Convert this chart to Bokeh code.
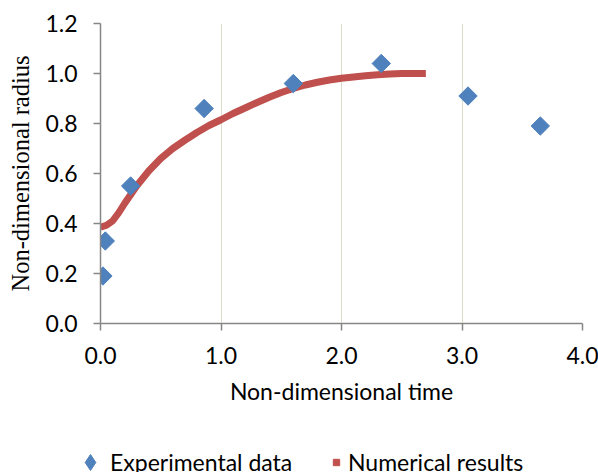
import math
from bokeh.plotting import figure
from bokeh.layouts import column
from bokeh.models import Range1d, FixedTicker, NumeralTickFormatter, Legend, LegendItem
from bokeh.embed import file_html
from bokeh.resources import INLINE

# Measured radius vs time
exp_time = [0.02, 0.04, 0.25, 0.86, 1.60, 2.33, 3.05, 3.65]
exp_radius = [0.19, 0.33, 0.55, 0.86, 0.96, 1.04, 0.91, 0.79]

# Simulated radius vs time
num_time = [0.0, 0.05, 0.1, 0.15, 0.2, 0.3, 0.4, 0.5, 0.6, 0.7, 0.8, 0.9, 1.0,
            1.1, 1.2, 1.3, 1.4, 1.5, 1.6, 1.7, 1.8, 1.9, 2.0, 2.1, 2.2, 2.3,
            2.4, 2.5, 2.6, 2.7]
num_radius = [0.385, 0.393, 0.41, 0.442, 0.48, 0.55, 0.61, 0.66, 0.70, 0.733,
              0.764, 0.792, 0.815, 0.84, 0.862, 0.884, 0.905, 0.924, 0.94, 0.954,
              0.965, 0.974, 0.981, 0.986, 0.991, 0.995, 0.998, 1.0, 1.0, 1.0]

x_ticks = [0, 1, 2, 3, 4]
y_ticks = [0.0, 0.2, 0.4, 0.6, 0.8, 1.0, 1.2]

BLUE = "#4F81BD"
RED = "#C0504D"
AXIS = "#868686"
SANS = "Lato"
FS = "23px"

p = figure(width=598, height=410, output_backend="svg", toolbar_location=None,
           x_range=Range1d(0, 4), y_range=Range1d(0, 1.2),
           min_border_left=100, min_border_right=16, min_border_top=23,
           min_border_bottom=87)
p.outline_line_color = None
p.background_fill_color = "white"
p.border_fill_color = "white"

# grid: vertical lines only
p.xgrid.ticker = FixedTicker(ticks=x_ticks)
p.xgrid.grid_line_color = "#DEDCCB"
p.xgrid.grid_line_width = 1
p.ygrid.grid_line_color = None

for ax in (p.xaxis[0], p.yaxis[0]):
    ax.axis_line_color = AXIS
    ax.axis_line_width = 1.5
    ax.major_tick_line_color = AXIS
    ax.major_tick_line_width = 1.5
    ax.major_tick_in = 0
    ax.major_tick_out = 7
    ax.minor_tick_line_color = None
    ax.major_label_text_font = SANS
    ax.major_label_text_font_size = FS
    ax.major_label_text_color = "black"
    ax.formatter = NumeralTickFormatter(format="0.0")
    ax.major_label_standoff = 16

p.xaxis.ticker = FixedTicker(ticks=x_ticks)
p.yaxis.ticker = FixedTicker(ticks=y_ticks)

p.xaxis.axis_label = "Non-dimensional time"
p.xaxis.axis_label_text_font = SANS
p.xaxis.axis_label_text_font_size = FS
p.xaxis.axis_label_text_font_style = "normal"
p.xaxis.axis_label_text_color = "black"
p.xaxis.axis_label_standoff = 10

p.yaxis.axis_label = "Non-dimensional radius"
p.yaxis.axis_label_text_font = "Liberation Serif"
p.yaxis.axis_label_text_font_size = "24.5px"
p.yaxis.axis_label_text_font_style = "normal"
p.yaxis.axis_label_text_color = "black"
p.yaxis.axis_label_standoff = 8

# numerical curve drawn as a thick line
p.line(num_time, num_radius, line_color=RED, line_width=7)

# experimental points as diamonds
p.scatter(exp_time, exp_radius, marker="square", angle=math.pi / 4,
          size=13, fill_color=BLUE, line_color=BLUE)

# legend strip under the chart; its key glyphs use the same series,
# kept outside the strip's visible y range so only the legend shows
leg = figure(width=598, height=62, output_backend="svg", toolbar_location=None,
             x_axis_location=None, y_axis_location=None, min_border=0,
             x_range=Range1d(0, 4), y_range=Range1d(10, 11))
leg.outline_line_color = None
leg.grid.grid_line_color = None
leg.background_fill_color = "white"
leg.border_fill_color = "white"
if "frame_align" in leg.properties():
    leg.frame_align = False
    p.frame_align = False

key_exp = leg.scatter(exp_time, exp_radius, marker="diamond",
                      fill_color=BLUE, line_color=BLUE)
key_num = leg.scatter(num_time, num_radius, marker="square",
                      fill_color=RED, line_color=RED)

common = dict(orientation="horizontal", border_line_color=None,
              background_fill_alpha=0, label_text_font=SANS,
              label_text_font_size=FS, label_text_color="black",
              margin=0, padding=0)

leg_exp = Legend(items=[LegendItem(label="Experimental data", renderers=[key_exp])],
                 glyph_width=40, glyph_height=40, label_standoff=0,
                 location=(70, -10), **common)
leg_num = Legend(items=[LegendItem(label="Numerical results", renderers=[key_num])],
                 glyph_width=16, glyph_height=16, label_standoff=4, label_height=30,
                 location=(328, -5), **common)
leg.add_layout(leg_exp, "center")
leg.add_layout(leg_num, "center")

open("out.html", "w").write(file_html(column(p, leg, spacing=0), INLINE))
